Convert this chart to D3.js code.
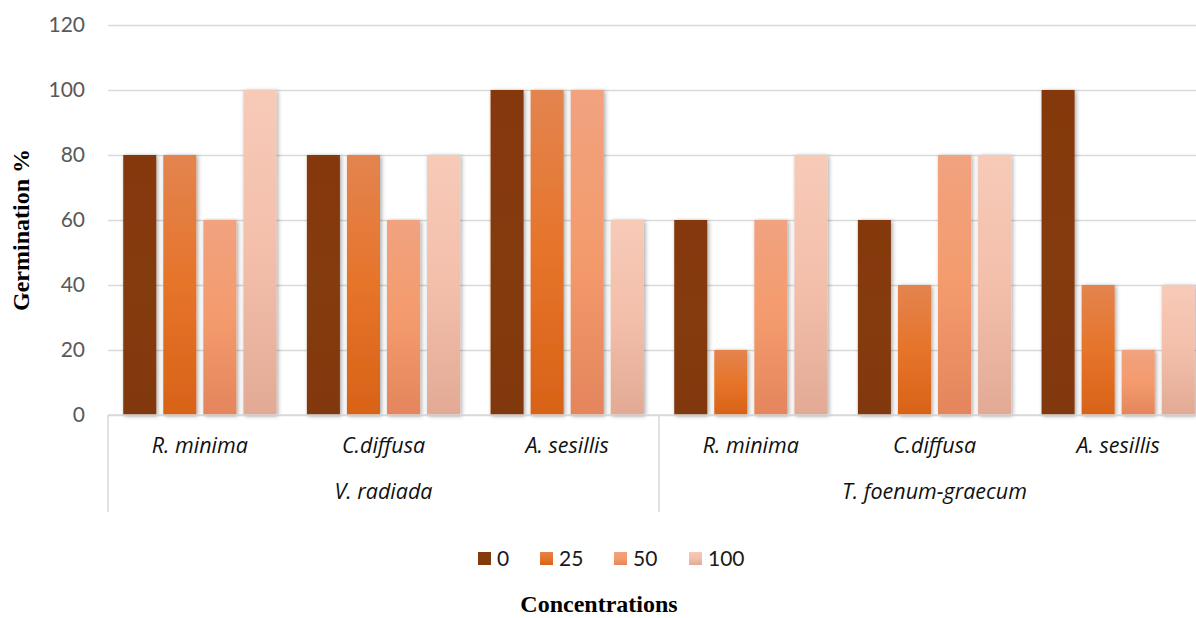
<!DOCTYPE html>
<html>
<head>
<meta charset="utf-8">
<script src="https://cdn.jsdelivr.net/npm/d3@7/dist/d3.min.js"></script>
<style>
  html, body { margin: 0; padding: 0; background: #fff; }
  svg { display: block; }
</style>
</head>
<body>
<svg id="chart" width="1196" height="618"></svg>
<script>
// Germination % of two crops under extracts of three weeds, at four concentrations
const crops = ["V. radiada", "T. foenum-graecum"];
const weeds = ["R. minima", "C.diffusa", "A. sesillis"];
const concentrations = ["0", "25", "50", "100"];
const yTicks = [0, 20, 40, 60, 80, 100, 120];

// one row per crop × weed, values in concentration order
const vRadiada = [
  [80, 80, 60, 100],
  [80, 80, 60, 80],
  [100, 100, 100, 60]
];
const tFoenum = [
  [60, 20, 60, 80],
  [60, 40, 80, 80],
  [100, 40, 20, 40]
];

const rows = [];
[vRadiada, tFoenum].forEach((block, ci) => {
  block.forEach((vals, wi) => {
    rows.push({ crop: crops[ci], weed: weeds[wi], key: ci + "|" + wi, values: vals });
  });
});

// fill gradients for each concentration (top, middle, bottom)
const fills = [
  ["#86390D", "#843A0C", "#82390C"],
  ["#E3844F", "#E6742A", "#D86217"],
  ["#F1A27F", "#F49B6D", "#E4855C"],
  ["#F7CAB8", "#F3BFAB", "#E2AA95"]
];

const svg = d3.select("#chart");
const plotLeft = 108, plotRight = 1210, plotTop = 25, plotBottom = 415;

const x0 = d3.scaleBand().domain(rows.map(r => r.key)).range([plotLeft, plotRight]).padding(0);
const x1 = d3.scaleBand().domain(concentrations).range([0, x0.bandwidth()])
  .paddingInner(0.175).paddingOuter(0.38);
const y = d3.scaleLinear().domain([0, 120]).range([plotBottom, plotTop]);

const defs = svg.append("defs");
fills.forEach((f, i) => {
  const g = defs.append("linearGradient").attr("id", "grad" + i)
    .attr("x1", 0).attr("y1", 0).attr("x2", 0).attr("y2", 1);
  g.append("stop").attr("offset", "0%").attr("stop-color", f[0]);
  g.append("stop").attr("offset", "50%").attr("stop-color", f[1]);
  g.append("stop").attr("offset", "100%").attr("stop-color", f[2]);
});
const shadow = defs.append("filter").attr("id", "shadow")
  .attr("x", "-30%").attr("y", "-10%").attr("width", "160%").attr("height", "120%");
shadow.append("feDropShadow").attr("dx", 1.5).attr("dy", 1).attr("stdDeviation", 2)
  .attr("flood-color", "#000").attr("flood-opacity", 0.35);

// horizontal gridlines
const yAxis = d3.axisLeft(y).tickValues(yTicks).tickSize(-(plotRight - plotLeft)).tickPadding(23);
const ga = svg.append("g").attr("transform", `translate(${plotLeft},0)`).call(yAxis);
ga.select(".domain").remove();
ga.selectAll(".tick line").attr("stroke", "#D9D9D9").attr("stroke-width", 1.5);
ga.selectAll(".tick text")
  .attr("fill", "#595959")
  .style("font-family", "Lato, 'Open Sans', sans-serif")
  .style("font-size", "21px");

// bars
const groups = svg.append("g").selectAll("g").data(rows).join("g")
  .attr("transform", d => `translate(${x0(d.key)},0)`);
groups.selectAll("rect")
  .data(d => d.values.map((v, i) => ({ conc: concentrations[i], idx: i, value: v })))
  .join("rect")
  .attr("x", d => x1(d.conc))
  .attr("y", d => y(d.value))
  .attr("width", x1.bandwidth())
  .attr("height", d => y(0) - y(d.value))
  .attr("fill", d => `url(#grad${d.idx})`)
  .attr("filter", "url(#shadow)");

// category axis: baseline plus crop dividers
const axisColor = "#D9D9D9";
svg.append("line").attr("x1", plotLeft).attr("x2", plotRight).attr("y1", y(0)).attr("y2", y(0))
  .attr("stroke", axisColor).attr("stroke-width", 1.5);
const cropEdges = [plotLeft];
crops.forEach(c => {
  const keys = rows.filter(r => r.crop === c).map(r => r.key);
  cropEdges.push(x0(keys[keys.length - 1]) + x0.bandwidth());
});
svg.selectAll("line.divider").data(cropEdges).join("line").attr("class", "divider")
  .attr("x1", d => d).attr("x2", d => d).attr("y1", y(0)).attr("y2", 512)
  .attr("stroke", axisColor).attr("stroke-width", 1.5);

const labelFont = "'Open Sans', Lato, sans-serif";
svg.append("g").selectAll("text").data(rows).join("text")
  .attr("x", d => x0(d.key) + x0.bandwidth() / 2)
  .attr("y", 453)
  .attr("text-anchor", "middle")
  .style("font-family", labelFont).style("font-style", "italic").style("font-size", "21.5px")
  .attr("fill", "#111")
  .text(d => d.weed);

svg.append("g").selectAll("text").data(crops).join("text")
  .attr("x", (d, i) => (cropEdges[i] + cropEdges[i + 1]) / 2)
  .attr("y", 499)
  .attr("text-anchor", "middle")
  .style("font-family", labelFont).style("font-style", "italic").style("font-size", "21.5px")
  .attr("fill", "#111")
  .text(d => d);

// axis titles
svg.append("text")
  .attr("transform", `translate(29,${(plotTop + plotBottom) / 2 + 10}) rotate(-90)`)
  .attr("text-anchor", "middle")
  .style("font-family", "'Liberation Serif', 'Times New Roman', serif")
  .style("font-weight", "bold").style("font-size", "24px")
  .attr("fill", "#000")
  .text("Germination %");

svg.append("text")
  .attr("x", 599).attr("y", 612)
  .attr("text-anchor", "middle")
  .style("font-family", "'Liberation Serif', 'Times New Roman', serif")
  .style("font-weight", "bold").style("font-size", "24px")
  .attr("fill", "#000")
  .text("Concentrations");

// legend
const legendX = [478, 540, 614, 689];
const lg = svg.append("g").selectAll("g").data(concentrations).join("g")
  .attr("transform", (d, i) => `translate(${legendX[i]},552)`);
lg.append("rect").attr("width", 13).attr("height", 13)
  .attr("fill", (d, i) => `url(#grad${i})`);
lg.append("text").attr("x", 19).attr("y", 13.5)
  .style("font-family", "Lato, 'Open Sans', sans-serif").style("font-size", "21px")
  .attr("fill", "#1a1a1a")
  .text(d => d);
</script>
</body>
</html>
